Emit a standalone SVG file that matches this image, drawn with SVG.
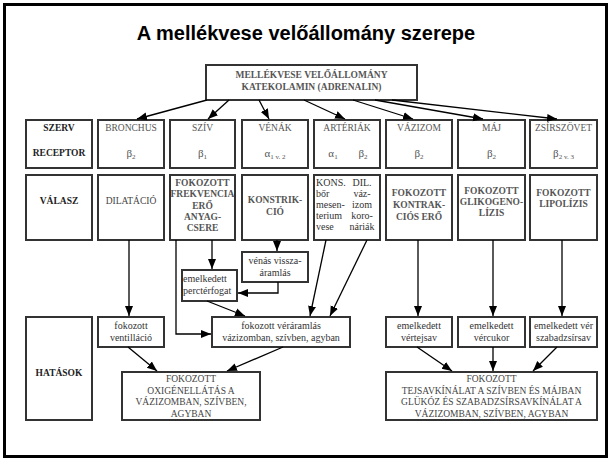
<svg xmlns="http://www.w3.org/2000/svg" width="612" height="461" viewBox="0 0 612 461">
<style>
.bx{fill:#fff;stroke:#333;stroke-width:2}
.ln{fill:none;stroke:#000;stroke-width:1.3}
text{font-family:"Liberation Serif","Times New Roman",serif;text-anchor:middle}
.st{text-anchor:start}
.lab{font-size:9.5px;font-weight:bold;fill:#222}
.hd{font-size:9.5px;fill:#555}
.gr{font-size:11px;fill:#555}
.sub{font-size:7px}
.rs{font-size:9.5px;font-weight:bold;fill:#555}
.rn{font-size:9.5px;fill:#444}
.lo{font-size:10px;fill:#333}
.bt{font-size:9.5px;fill:#444}
.ti{font-family:"Liberation Sans",Arial,sans-serif;font-size:20px;font-weight:bold;fill:#000}
</style>
<defs>
<marker id="ah" markerUnits="userSpaceOnUse" markerWidth="10" markerHeight="10" viewBox="0 0 10 10" refX="10" refY="5" orient="auto">
<path d="M0,1 L10,5 L0,9 Z" fill="#000"/>
</marker>
</defs>
<rect x="0" y="0" width="612" height="461" fill="#fff"/>
<rect x="4.5" y="4.5" width="602" height="452" fill="none" stroke="#000" stroke-width="3"/>
<text class="ti" x="306" y="40">A mellékvese velőállomány szerepe</text>

<g id="top">
<rect class="bx" x="206" y="65" width="211" height="35"/>
<text class="rs" x="311.5" y="78">MELLÉKVESE VELŐÁLLOMÁNY</text>
<text class="rs" x="311.5" y="90">KATEKOLAMIN (ADRENALIN)</text>
</g>

<g id="label-szerv">
<rect class="bx" x="26" y="120" width="66" height="48"/>
<text class="lab" x="59" y="131">SZERV</text>
<text class="lab" x="59" y="156">RECEPTOR</text>
</g>
<g id="bronchus">
<rect class="bx" x="98" y="120" width="66" height="48"/>
<text class="hd" x="131" y="131">BRONCHUS</text>
<text class="gr" x="131" y="157">β<tspan class="sub" dy="2">2</tspan></text>
</g>
<g id="sziv">
<rect class="bx" x="170" y="120" width="65" height="48"/>
<text class="hd" x="202.5" y="131">SZÍV</text>
<text class="gr" x="202.5" y="157">β<tspan class="sub" dy="2">1</tspan></text>
</g>
<g id="venak">
<rect class="bx" x="242" y="120" width="66" height="48"/>
<text class="hd" x="275" y="131">VÉNÁK</text>
<text class="gr" x="275" y="157">α<tspan class="sub" dy="2">1 v. 2</tspan></text>
</g>
<g id="arteriak">
<rect class="bx" x="314" y="120" width="66" height="48"/>
<text class="hd" x="347" y="131">ARTÉRIÁK</text>
<text class="gr" x="333" y="157">α<tspan class="sub" dy="2">1</tspan></text>
<text class="gr" x="363" y="157">β<tspan class="sub" dy="2">2</tspan></text>
</g>
<g id="vazizom">
<rect class="bx" x="386" y="120" width="66" height="48"/>
<text class="hd" x="419" y="131">VÁZIZOM</text>
<text class="gr" x="419" y="157">β<tspan class="sub" dy="2">2</tspan></text>
</g>
<g id="maj">
<rect class="bx" x="458" y="120" width="67" height="48"/>
<text class="hd" x="491.5" y="131">MÁJ</text>
<text class="gr" x="491.5" y="157">β<tspan class="sub" dy="2">2</tspan></text>
</g>
<g id="zsirszovet">
<rect class="bx" x="530" y="120" width="67" height="48"/>
<text class="hd" x="563.5" y="131">ZSÍRSZÖVET</text>
<text class="gr" x="563.5" y="157">β<tspan class="sub" dy="2">2 v. 3</tspan></text>
</g>

<g id="label-valasz">
<rect class="bx" x="26" y="175" width="66" height="65"/>
<text class="lab" x="59" y="204">VÁLASZ</text>
</g>
<g id="bronchus-valasz">
<rect class="bx" x="98" y="175" width="66" height="65"/>
<text class="rn" x="131" y="204">DILATÁCIÓ</text>
</g>
<g id="sziv-valasz">
<rect class="bx" x="170" y="175" width="65" height="65"/>
<text class="rs" x="202.5" y="185.5">FOKOZOTT</text>
<text class="rs" x="202.5" y="197">FREKVENCIA</text>
<text class="rs" x="202.5" y="208.5">ERŐ</text>
<text class="rs" x="202.5" y="220">ANYAG-</text>
<text class="rs" x="202.5" y="231">CSERE</text>
</g>
<g id="venak-valasz">
<rect class="bx" x="242" y="175" width="66" height="65"/>
<text class="rs" x="275" y="203">KONSTRIK-</text>
<text class="rs" x="275" y="215">CIÓ</text>
</g>
<g id="arteriak-valasz">
<rect class="bx" x="314" y="175" width="66" height="65"/>
<text class="lo st" x="316" y="186">KONS.</text>
<text class="lo st" x="316" y="197">bőr</text>
<text class="lo st" x="316" y="208">mesen-</text>
<text class="lo st" x="316" y="219">terium</text>
<text class="lo st" x="316" y="230">vese</text>
<text class="lo" x="362" y="186">DIL.</text>
<text class="lo" x="362" y="197">váz-</text>
<text class="lo" x="362" y="208">izom</text>
<text class="lo" x="362" y="219">koro-</text>
<text class="lo" x="362" y="230">náriák</text>
</g>
<g id="vazizom-valasz">
<rect class="bx" x="386" y="175" width="66" height="65"/>
<text class="rs" x="419" y="195.5">FOKOZOTT</text>
<text class="rs" x="419" y="207.5">KONTRAK-</text>
<text class="rs" x="419" y="219.5">CIÓS ERŐ</text>
</g>
<g id="maj-valasz">
<rect class="bx" x="458" y="175" width="67" height="65"/>
<text class="rs" x="491.5" y="193.5">FOKOZOTT</text>
<text class="rs" x="491.5" y="204.5">GLIKOGENO-</text>
<text class="rs" x="491.5" y="215.5">LÍZIS</text>
</g>
<g id="zsir-valasz">
<rect class="bx" x="530" y="175" width="67" height="65"/>
<text class="rs" x="563.5" y="195.5">FOKOZOTT</text>
<text class="rs" x="563.5" y="206.5">LIPOLÍZIS</text>
</g>

<g id="venas">
<rect class="bx" x="242" y="252" width="66" height="30"/>
<text class="lo" x="275" y="264">vénás vissza-</text>
<text class="lo" x="275" y="276">áramlás</text>
</g>
<g id="percterfogat">
<rect class="bx" x="182" y="270" width="55" height="31"/>
<text class="lo st" x="183" y="282">emelkedett</text>
<text class="lo st" x="183" y="294">perctérfogat</text>
</g>

<g id="label-hatasok">
<rect class="bx" x="26" y="317" width="66" height="103"/>
<text class="lab" x="59" y="375.5">HATÁSOK</text>
</g>
<g id="ventillacio">
<rect class="bx" x="98" y="317" width="66" height="30"/>
<text class="lo" x="131" y="329">fokozott</text>
<text class="lo" x="131" y="341">ventilláció</text>
</g>
<g id="veraramlas">
<rect class="bx" x="212" y="317" width="138" height="30"/>
<text class="lo" x="281" y="329">fokozott véráramlás</text>
<text class="lo" x="281" y="341">vázizomban, szívben, agyban</text>
</g>
<g id="vertejsav">
<rect class="bx" x="386" y="317" width="66" height="30"/>
<text class="lo" x="419" y="329">emelkedett</text>
<text class="lo" x="419" y="341">vértejsav</text>
</g>
<g id="vercukor">
<rect class="bx" x="458" y="317" width="67" height="30"/>
<text class="lo" x="491.5" y="329">emelkedett</text>
<text class="lo" x="491.5" y="341">vércukor</text>
</g>
<g id="szabadzsirsav">
<rect class="bx" x="530" y="317" width="67" height="30"/>
<text class="lo" x="563.5" y="329">emelkedett vér</text>
<text class="lo" x="563.5" y="341">szabadzsírsav</text>
</g>
<g id="oxigen">
<rect class="bx" x="122" y="372" width="138" height="48"/>
<text class="bt" x="191" y="382">FOKOZOTT</text>
<text class="bt" x="191" y="393.5">OXIGÉNELLÁTÁS A</text>
<text class="bt" x="191" y="405">VÁZIZOMBAN, SZÍVBEN,</text>
<text class="bt" x="191" y="416.5">AGYBAN</text>
</g>
<g id="kinalat">
<rect class="bx" x="386" y="372" width="211" height="48"/>
<text class="bt" x="491.5" y="382">FOKOZOTT</text>
<text class="bt" x="491.5" y="393.5">TEJSAVKÍNÁLAT A SZÍVBEN ÉS MÁJBAN</text>
<text class="bt" x="491.5" y="405">GLÜKÓZ ÉS SZABADZSÍRSAVKÍNÁLAT A</text>
<text class="bt" x="491.5" y="416.5">VÁZIZOMBAN, SZÍVBEN, AGYBAN</text>
</g>

<g id="connectors">
<path class="ln" marker-end="url(#ah)" d="M207,100 L137,119"/>
<path class="ln" marker-end="url(#ah)" d="M229,100 L208,119"/>
<path class="ln" marker-end="url(#ah)" d="M259,100 L269,119"/>
<path class="ln" marker-end="url(#ah)" d="M304,100 L345,119"/>
<path class="ln" marker-end="url(#ah)" d="M353,100 L413,119"/>
<path class="ln" marker-end="url(#ah)" d="M375,100 L483,119"/>
<path class="ln" marker-end="url(#ah)" d="M392,100 L557,119"/>
<path class="ln" marker-end="url(#ah)" d="M129,240 L129,316"/>
<path class="ln" marker-end="url(#ah)" d="M212,240 L212,269"/>
<path class="ln" marker-end="url(#ah)" d="M176,240 L176,334 L211,334"/>
<path class="ln" marker-end="url(#ah)" d="M277,240 L277,251"/>
<path class="ln" marker-end="url(#ah)" d="M278,282 L278,293 L238,293"/>
<path class="ln" marker-end="url(#ah)" d="M207,301 L245,316"/>
<path class="ln" marker-end="url(#ah)" d="M326,240 L310,316"/>
<path class="ln" marker-end="url(#ah)" d="M367,240 L330,316"/>
<path class="ln" marker-end="url(#ah)" d="M418,240 L418,316"/>
<path class="ln" marker-end="url(#ah)" d="M493,240 L493,316"/>
<path class="ln" marker-end="url(#ah)" d="M562,240 L562,316"/>
<path class="ln" marker-end="url(#ah)" d="M128,347 L157,371"/>
<path class="ln" marker-end="url(#ah)" d="M283,347 L227,371"/>
<path class="ln" marker-end="url(#ah)" d="M417,347 L452,371"/>
<path class="ln" marker-end="url(#ah)" d="M493,347 L493,371"/>
<path class="ln" marker-end="url(#ah)" d="M557,347 L533,371"/>
</g>
</svg>
